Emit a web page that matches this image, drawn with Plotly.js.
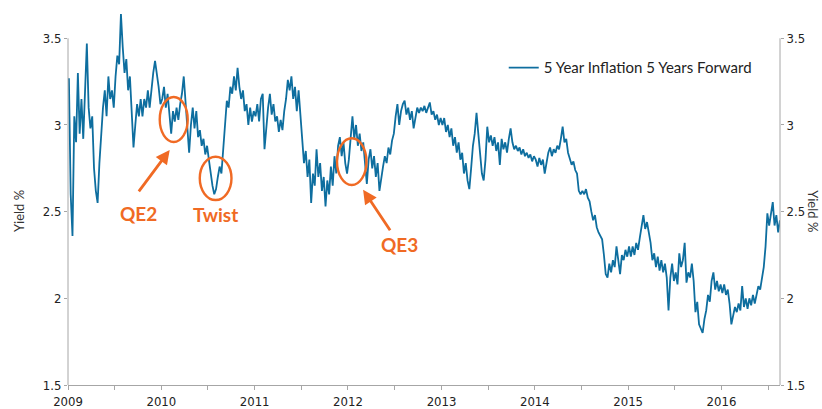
<!DOCTYPE html>
<html>
<head>
<meta charset="utf-8">
<script src="https://cdn.plot.ly/plotly-3.0.1.min.js"></script>
<style>
  html, body { margin: 0; padding: 0; background: #ffffff; }
  #chart { width: 822px; height: 409px; }
</style>
</head>
<body>
<div id="chart"></div>
<script>
// Weekly readings of 5 Year Inflation 5 Years Forward (yield %), per calendar year
const v2009 = [3.27,2.6,2.36,3.05,2.9,3.3,2.95,3.15,2.92,3.2,3.47,3.1,2.98,3.05,2.75,2.62,2.55,2.78,2.95,3.1,3.2,3.05,3.28,3.15,3.2,3.1,3.28,3.4,3.35,3.64,3.45,3.3,3.38,3.2,3.28,3.05,2.87,3.0,3.12,3.05,3.15,3.05,3.15,3.1,3.2,3.1,3.22,3.3,3.37,3.3,3.22,3.12];
const v2010 = [3.15,3.22,3.1,3.18,3.05,2.95,3.08,3.02,3.1,3.03,3.12,3.18,3.28,3.15,3.0,2.84,3.0,3.1,2.98,3.08,2.93,2.97,2.88,2.92,2.83,2.88,2.8,2.72,2.65,2.6,2.63,2.7,2.76,2.72,2.85,3.0,3.14,3.1,3.22,3.18,3.28,3.2,3.33,3.22,3.15,3.2,3.08,3.12,3.0,3.1,3.02,3.08];
const v2011 = [3.05,3.12,3.02,3.15,3.18,2.86,3.0,3.1,3.18,3.06,3.12,3.02,3.05,2.96,3.03,2.97,3.08,3.15,3.26,3.2,3.28,3.15,3.22,3.08,3.2,3.05,2.92,2.78,2.85,2.7,2.8,2.55,2.72,2.65,2.86,2.7,2.78,2.62,2.7,2.53,2.68,2.6,2.76,2.65,2.82,2.72,2.88,2.93,2.82,2.9,2.78,2.72];
const v2012 = [2.8,2.95,3.05,2.92,3.0,2.88,2.95,2.85,2.9,2.78,2.66,2.8,2.86,2.75,2.82,2.7,2.78,2.62,2.7,2.76,2.82,2.78,2.87,2.83,2.91,2.95,3.05,3.12,3.0,3.08,3.12,3.14,3.06,3.1,3.03,3.08,2.98,3.05,3.1,3.07,3.1,3.08,3.11,3.07,3.1,3.13,3.06,3.08,3.03,3.06,3.0,3.04];
const v2013 = [3.0,3.04,2.96,3.0,2.93,2.98,2.88,2.93,2.84,2.9,2.8,2.84,2.72,2.78,2.68,2.63,2.75,2.88,2.95,3.07,2.95,2.85,2.72,2.68,2.8,2.99,2.9,2.94,2.88,2.93,2.85,2.9,2.77,2.92,2.86,2.9,2.84,2.92,2.98,2.9,2.86,2.88,2.85,2.87,2.83,2.86,2.82,2.84,2.81,2.83,2.79,2.82];
const v2014 = [2.8,2.76,2.81,2.77,2.8,2.72,2.78,2.84,2.87,2.82,2.86,2.84,2.88,2.86,2.92,2.99,2.9,2.92,2.84,2.8,2.77,2.79,2.74,2.72,2.62,2.6,2.62,2.6,2.63,2.58,2.56,2.5,2.45,2.48,2.41,2.38,2.36,2.34,2.25,2.14,2.12,2.2,2.15,2.22,2.18,2.3,2.22,2.14,2.25,2.22,2.28,2.24];
const v2015 = [2.3,2.24,2.3,2.25,2.32,2.28,2.35,2.42,2.48,2.4,2.44,2.38,2.32,2.22,2.26,2.18,2.24,2.16,2.22,2.15,2.2,2.12,1.93,2.12,2.2,2.1,2.15,2.08,2.26,2.18,2.22,2.32,2.09,2.15,2.12,2.2,2.1,1.92,1.98,1.85,1.82,1.8,1.88,1.93,2.02,1.98,2.1,2.15,2.05,2.1,2.04,2.08];
const v2016 = [2.03,2.08,2.02,2.05,1.97,1.85,1.9,1.95,1.92,1.97,1.93,2.07,1.95,2.0,1.94,2.0,1.96,2.02,1.97,2.03,2.07,2.05,2.12,2.18,2.3,2.49,2.42,2.5,2.555,2.42,2.48,2.38,2.45];
const years = [2009,2010,2011,2012,2013,2014,2015,2016];
const yearValues = [v2009,v2010,v2011,v2012,v2013,v2014,v2015,v2016];
const seriesName = '5 Year Inflation 5 Years Forward';
const yTickVals = [1.5, 2, 2.5, 3, 3.5];
const yTickText = ['1.5', '2', '2.5', '3', '3.5'];
const xTickYears = [2009,2009.5,2010,2010.5,2011,2011.5,2012,2012.5,2013,2013.5,2014,2014.5,2015,2015.5,2016,2016.5];
const xTickText = ['2009','','2010','','2011','','2012','','2013','','2014','','2015','','2016',''];

// fractional year -> date string
function yf(t) {
  const y = Math.floor(t);
  const s = Date.UTC(y, 0, 1), e = Date.UTC(y + 1, 0, 1);
  return new Date(s + (t - y) * (e - s)).toISOString().slice(0, 19).replace('T', ' ');
}

const xs = [], ys = [];
years.forEach((yr, k) => {
  yearValues[k].forEach((v, i) => { xs.push(yf(yr + (i + 0.5) / 52)); ys.push(v); });
});

const blue = '#0e6e9f';
const orange = '#f06a24';
const axisGray = '#a6a6a6';
const tickFont = { family: 'Liberation Sans Narrow, DejaVu Sans Condensed, sans-serif', size: 13, color: '#222' };

const traces = [
  { x: xs, y: ys, type: 'scatter', mode: 'lines', name: seriesName,
    line: { color: blue, width: 1.8 }, hoverinfo: 'x+y' },
  { x: xs, y: ys, type: 'scatter', mode: 'lines', yaxis: 'y2', showlegend: false,
    line: { color: 'rgba(0,0,0,0)', width: 0 }, hoverinfo: 'skip' }
];

const yRange = [1.5, 3.6575];
const layout = {
  width: 822, height: 409,
  margin: { l: 68.3, r: 42.3, t: 11, b: 24 },
  paper_bgcolor: '#ffffff', plot_bgcolor: '#ffffff',
  showlegend: true,
  legend: { x: 0.612, xanchor: 'left', y: 0.848, yanchor: 'middle',
    font: { family: 'Lato, sans-serif', size: 15, color: '#222' }, bgcolor: 'rgba(0,0,0,0)' },
  xaxis: { type: 'date', range: [yf(2009), yf(2016.6255)], showgrid: false, zeroline: false,
    showline: true, linecolor: axisGray, linewidth: 1,
    ticks: 'outside', ticklen: 4, tickcolor: axisGray, tickwidth: 1,
    tickmode: 'array', tickvals: xTickYears.map(yf), ticktext: xTickText,
    tickfont: tickFont, ticklabelstandoff: 0 },
  yaxis: { range: yRange, showgrid: false, zeroline: false, showline: false,
    ticks: 'outside', ticklen: 3, tickcolor: axisGray, tickwidth: 1,
    tickmode: 'array', tickvals: yTickVals, ticktext: yTickText, tickfont: tickFont },
  yaxis2: { range: yRange, overlaying: 'y', side: 'right', showgrid: false, zeroline: false, showline: false,
    ticks: 'outside', ticklen: 3, tickcolor: axisGray, tickwidth: 1,
    tickmode: 'array', tickvals: yTickVals, ticktext: yTickText, tickfont: tickFont },
  shapes: [
    { type: 'line', xref: 'paper', yref: 'y', x0: 0, x1: 0, y0: 1.5, y1: 3.5, line: { color: axisGray, width: 1 } },
    { type: 'line', xref: 'paper', yref: 'y', x0: 1, x1: 1, y0: 1.5, y1: 3.5, line: { color: axisGray, width: 1 } },
    { type: 'circle', xref: 'x', yref: 'y', x0: yf(2009.983), x1: yf(2010.283), y0: 2.902, y1: 3.161,
      line: { color: orange, width: 2.4 } },
    { type: 'circle', xref: 'x', yref: 'y', x0: yf(2010.412), x1: yf(2010.752), y0: 2.567, y1: 2.817,
      line: { color: orange, width: 2.4 } },
    { type: 'circle', xref: 'x', yref: 'y', x0: yf(2011.883), x1: yf(2012.198), y0: 2.654, y1: 2.923,
      line: { color: orange, width: 2.4 } }
  ],
  annotations: [
    { xref: 'paper', yref: 'paper', x: -0.068, y: 0.464, xanchor: 'center', yanchor: 'middle',
      text: 'Yield %', textangle: -90, showarrow: false,
      font: { family: 'Lato, sans-serif', size: 13, color: '#333' } },
    { xref: 'paper', yref: 'paper', x: 1.0454, y: 0.464, xanchor: 'center', yanchor: 'middle',
      text: 'Yield %', textangle: 90, showarrow: false,
      font: { family: 'Lato, sans-serif', size: 13, color: '#333' } },
    { xref: 'x', yref: 'y', x: yf(2010.09), y: 2.856, ax: -32, ay: 43, text: '', showarrow: true,
      arrowhead: 2, arrowsize: 1, arrowwidth: 2.8, arrowcolor: orange, standoff: 0 },
    { xref: 'x', yref: 'y', x: yf(2012.162), y: 2.626, ax: 28, ay: 42, text: '', showarrow: true,
      arrowhead: 2, arrowsize: 1, arrowwidth: 2.8, arrowcolor: orange, standoff: 0 },
    { xref: 'x', yref: 'y', x: yf(2009.758), y: 2.492, text: '<b>QE2</b>', showarrow: false,
      font: { family: 'Lato, sans-serif', size: 19, color: orange } },
    { xref: 'x', yref: 'y', x: yf(2010.583), y: 2.481, text: '<b>Twist</b>', showarrow: false,
      font: { family: 'Lato, sans-serif', size: 19, color: orange } },
    { xref: 'x', yref: 'y', x: yf(2012.555), y: 2.308, text: '<b>QE3</b>', showarrow: false,
      font: { family: 'Lato, sans-serif', size: 19, color: orange } }
  ]
};

Plotly.newPlot('chart', traces, layout, { displayModeBar: false, staticPlot: true });
</script>
</body>
</html>
